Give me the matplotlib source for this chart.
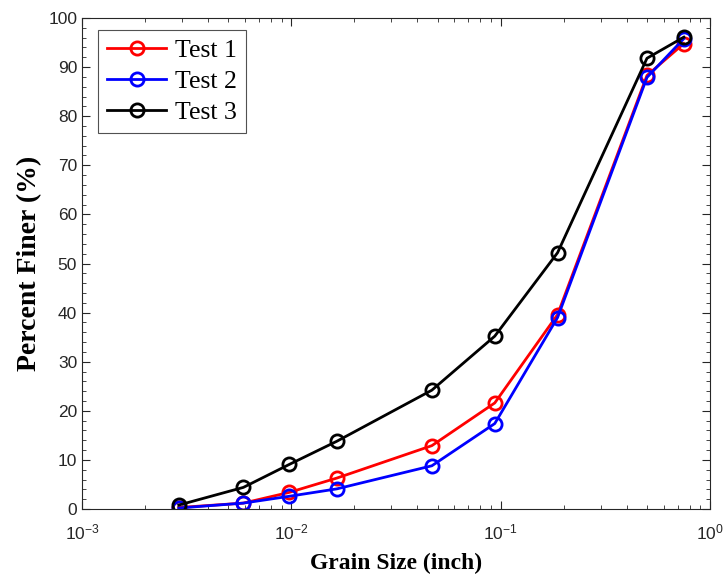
import matplotlib
matplotlib.use("Agg")
import math
import matplotlib.pyplot as plt
from matplotlib.ticker import LogLocator, MultipleLocator, FixedLocator, FuncFormatter, NullFormatter

grain_size = [0.0029, 0.0059, 0.0098, 0.0165, 0.0469, 0.0937, 0.187, 0.5, 0.75]
test1 = [0.3, 1.2, 3.4, 6.3, 12.9, 21.6, 39.6, 88.3, 94.8]
test2 = [0.2, 1.2, 2.6, 4.1, 8.8, 17.4, 39.0, 87.9, 95.8]
test3 = [0.8, 4.4, 9.1, 13.8, 24.2, 35.2, 52.2, 91.8, 96.1]
series = [("Test 1", test1, "#ff0000"), ("Test 2", test2, "#0000ff"), ("Test 3", test3, "#000000")]
x_major = [1e-3, 1e-2, 1e-1, 1e0]
y_ticks = [0, 10, 20, 30, 40, 50, 60, 70, 80, 90, 100]

plt.rcParams['font.family'] = ['Liberation Sans', 'DejaVu Sans']
plt.rcParams['mathtext.default'] = 'regular'

fig = plt.figure(figsize=(7.23, 5.81), dpi=100)
ax = fig.add_axes([82/723, 1-509/581, (710-82)/723, (509-18)/581])

for name, vals, col in series:
    ax.plot(grain_size, vals, '-o', color=col, lw=2, markersize=9.5,
            markerfacecolor='none', markeredgewidth=2, label=name)

ax.set_xscale('log')
ax.set_xlim(1e-3, 1e0)
ax.set_ylim(0, 100)
ax.xaxis.set_major_locator(FixedLocator(x_major))
ax.xaxis.set_minor_locator(LogLocator(base=10, subs=range(2, 10), numticks=20))
ax.xaxis.set_minor_formatter(NullFormatter())
def fmt(v, pos):
    e = int(round(math.log10(v)))
    return r'$10^{%d}$' % e
ax.xaxis.set_major_formatter(FuncFormatter(fmt))
ax.yaxis.set_major_locator(FixedLocator(y_ticks))
ax.yaxis.set_minor_locator(MultipleLocator(2))

ax.tick_params(which='both', direction='in', top=True, right=True, colors='#262626', labelcolor='#262626')
ax.tick_params(which='major', length=6, width=0.8, labelsize=12.5)
ax.tick_params(which='minor', length=3, width=0.6)
ax.tick_params(axis='x', which='major', pad=10)
for s in ax.spines.values():
    s.set_color('#262626')
    s.set_linewidth(0.8)

ax.set_xlabel('Grain Size (inch)', family='Liberation Serif', fontweight='bold', fontsize=17, labelpad=7)
ax.set_ylabel('Percent Finer (%)', family='Liberation Serif', fontweight='bold', fontsize=20, labelpad=4)

leg = ax.legend(loc='upper left', bbox_to_anchor=(0.0255, 0.975), prop={'family': 'Liberation Serif', 'size': 18.5},
                frameon=True, fancybox=False, edgecolor='#262626', handlelength=2.3, borderpad=0.35,
                labelspacing=0.3, handletextpad=0.35, borderaxespad=0)
leg.get_frame().set_linewidth(0.8)

fig.savefig('out.png', dpi=100)
